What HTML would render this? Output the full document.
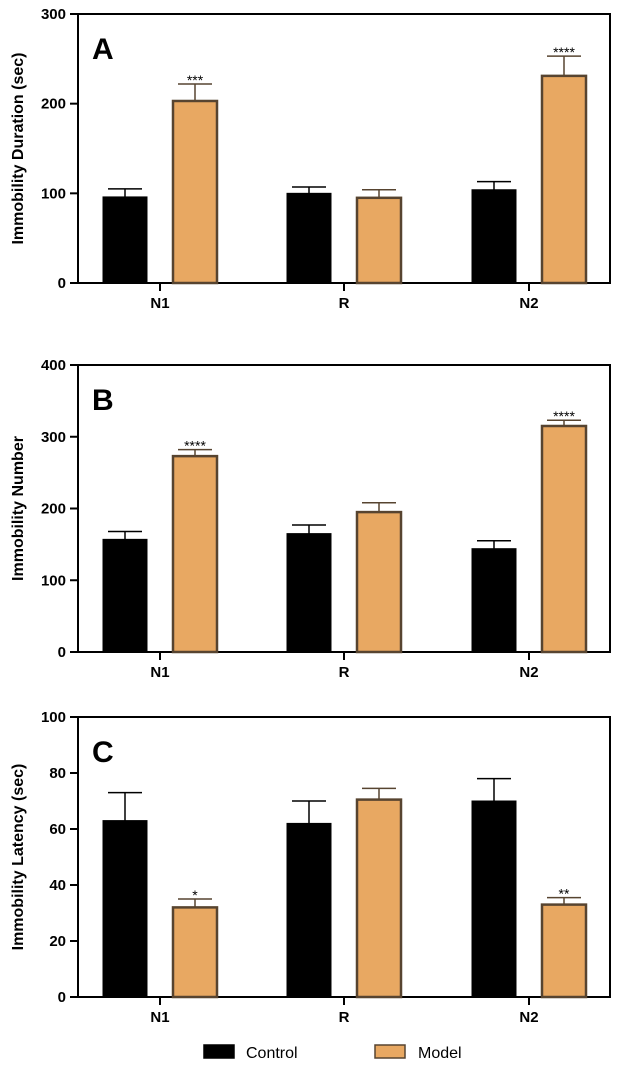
<!DOCTYPE html>
<html><head><meta charset="utf-8"><style>
body{margin:0;background:#fff;}
svg{display:block;font-family:"Liberation Sans",Arial,sans-serif;}
</style></head><body>
<svg id="chart" width="624" height="1068" viewBox="0 0 624 1068"></svg>
<script>
const categories = ["N1","R","N2"];
const panelLetters = ["A","B","C"];
const yTitles = ["Immobility Duration (sec)","Immobility Number","Immobility Latency (sec)"];
const yMax = [300,400,100];
const yTicks = [[0,100,200,300],[0,100,200,300,400],[0,20,40,60,80,100]];
const controlA = [96,100,104], controlErrA = [9,7,9];
const modelA = [203,95,231], modelErrA = [19,9,22];
const controlB = [157,165,144], controlErrB = [11,12,11];
const modelB = [273,195,315], modelErrB = [9,13,8];
const controlC = [63,62,70], controlErrC = [10,8,8];
const modelC = [32,70.5,33], modelErrC = [3,4,2.5];
const sigA = ["","***","","","","****"]; // order: N1c,N1m,Rc,Rm,N2c,N2m
const sigB = ["","****","","","","****"];
const sigC = ["","*","","","","**"];
const panels = [
 {c:controlA,ce:controlErrA,m:modelA,me:modelErrA,sig:sigA,top:14,bot:283},
 {c:controlB,ce:controlErrB,m:modelB,me:modelErrB,sig:sigB,top:365,bot:652},
 {c:controlC,ce:controlErrC,m:modelC,me:modelErrC,sig:sigC,top:717,bot:997}
];
const svg=document.getElementById('chart');
const NS='http://www.w3.org/2000/svg';
function mk(tag,attrs,parent){const e=document.createElementNS(NS,tag);for(const k in attrs)e.setAttribute(k,attrs[k]);(parent||svg).appendChild(e);return e;}
const xL=78,xR=610;
const catCenter=[160,344,529];
panels.forEach((p,pi)=>{
 const g=mk('g',{});
 
 
 const y=v=>p.bot-(v/yMax[pi])*(p.bot-p.top);
 const box=mk('rect',{x:xL,y:p.top,width:xR-xL,height:p.bot-p.top,fill:'none',stroke:'#000','stroke-width':2},g);
 
 
 yTicks[pi].forEach(t=>{
  const yy=y(t);
  const tk=mk('line',{x1:70,x2:xL,y1:yy,y2:yy,stroke:'#000','stroke-width':2},g);
  
  
  const tl=mk('text',{x:66,y:yy+5,'text-anchor':'end','font-size':15,'font-weight':'bold'},g);
  tl.textContent=t;
  
  
 });
 const yt=mk('text',{transform:`translate(23,${(p.top+p.bot)/2}) rotate(-90)`,'text-anchor':'middle','font-size':16,'font-weight':'bold'},g);
 yt.textContent=yTitles[pi];
 
 
 const lt=mk('text',{x:92,y:p.top+45,'font-size':30,'font-weight':'bold'},g);
 lt.textContent=panelLetters[pi];
 
 
 categories.forEach((cat,ci)=>{
  const cx=catCenter[ci];
  const xt=mk('line',{x1:cx,x2:cx,y1:p.bot,y2:p.bot+8,stroke:'#000','stroke-width':2},g);
  
  
  const xl=mk('text',{x:cx,y:p.bot+25,'text-anchor':'middle','font-size':15,'font-weight':'bold'},g);
  xl.textContent=cat;
  
  
  [[p.c[ci],p.ce[ci],cx-35,'#000','#000','control'],[p.m[ci],p.me[ci],cx+35,'#E8A862','#574430','model']].forEach((b,bi)=>{
   const [v,e,bc,fill,stroke,nm]=b;
   const ey=y(v+e);
   const el=mk('line',{x1:bc,x2:bc,y1:y(v),y2:ey,stroke:stroke,'stroke-width':1.5},g);
   
   
   const cap=mk('line',{x1:bc-17,x2:bc+17,y1:ey,y2:ey,stroke:stroke,'stroke-width':1.5},g);
   
   
   const r=mk('rect',{x:bc-22,y:y(v),width:44,height:p.bot-y(v),fill:fill,stroke:stroke,'stroke-width':bi?2.5:1},g);
   
   
   const s=p.sig[ci*2+bi];
   if(s){const st=mk('text',{x:bc,y:ey+1,'text-anchor':'middle','font-size':14},g);
    st.textContent=s;
    
    }
  });
 });
});
const lg=mk('g',{});


[['Control','#000','#000',204,246],['Model','#E8A862','#574430',375,418]].forEach(l=>{
 const r=mk('rect',{x:l[3],y:1045,width:30,height:13,fill:l[1],stroke:l[2],'stroke-width':1.5},lg);
 
 
 const t=mk('text',{x:l[4],y:1058,'font-size':16},lg);
 t.textContent=l[0];
 
 
});
</script>
</body></html>
